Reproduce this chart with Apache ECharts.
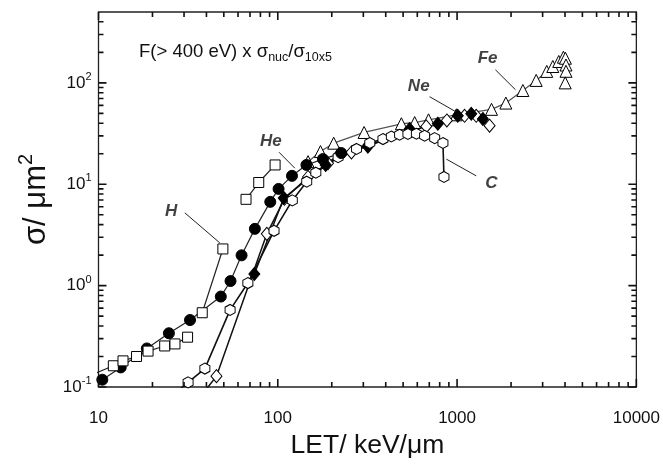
<!DOCTYPE html>
<html><head><meta charset="utf-8">
<script src="https://cdn.jsdelivr.net/npm/echarts@6/dist/echarts.min.js"></script>
<style>html,body{margin:0;padding:0;background:#fff}#c{width:663px;height:464px}</style>
</head><body><div id="c"></div>
<script>
// ---- tick values ----
const xMajorTicks = [10, 100, 1000, 10000];
const xMinorTicks = [20,30,40,50,60,70,80,90,200,300,400,500,600,700,800,900,2000,3000,4000,5000,6000,7000,8000,9000];
const yMajorTicks = [0.1, 1, 10, 100];
const yMinorTicks = [0.2,0.3,0.4,0.5,0.6,0.7,0.8,0.9,2,3,4,5,6,7,8,9,20,30,40,50,60,70,80,90,200,300,400];

// ---- data (LET keV/um, sigma um^2); null = gap in line ----
const hLET   = [9, 12.1, 13.7, 16.3, 18.9, 23.4, 26.7, 31.4, 37.9, 37.9, 49.4, 66.5, 66.5, 78.3, 96.6];
const hSigma = [0.13, 0.162, 0.181, 0.2, 0.226, 0.254, 0.266, 0.31, null, 0.54, 2.3, null, 7.1, 10.4, 15.5];
const heLET   = [10.5, 13.3, 18.6, 24.7, 32.4, 48.1, 54.5, 62.8, 74.5, 90.8, 101, 120, 144.5, 178.6, 226];
const heSigma = [0.118, 0.156, 0.24, 0.339, 0.458, 0.78, 1.11, 1.99, 3.63, 6.7, 9.0, 12.1, 15.5, 17.7, 20.3];
const cLET   = [26.3, 31.6, 39.2, 54.2, 68.1, 95.3, 120.5, 145, 163, 217, 275, 326, 386, 430, 478, 532, 593, 659, 750, 834, 845];
const cSigma = [0.085, 0.111, 0.152, 0.576, 1.06, 3.47, 6.93, 10.6, 13.0, 18.5, 22.3, 25.5, 27.9, 29.6, 30.8, 31.3, 31.5, 30.1, 28.5, 25.5, 11.8];
const oLET   = [38, 45.5, 86.9, 109, 147.5, 190.6, 257.5, 321, 673, 877, 1101, 1279, 1518];
const oSigma = [0.085, 0.128, 3.24, 7.18, 11.8, 16.1, 20.6, 24.5, 37.2, 42.6, 47.3, 47.3, 37.8];
const neLET   = [74, 108, 185, 221, 318, 544, 781, 1009, 1200, 1393];
const neSigma = [1.3, 7.3, 15.5, 19.9, 23.5, 35, 39.5, 47.3, 49.5, 44];
const feLET   = [147.5, 173, 205, 303, 489, 580, 693, 991, 1556, 1871, 2328, 2762, 3163, 3419, 3690, 3918, 4020, 4050, 4050, 4010];
const feSigma = [16.7, 21.0, 25.4, 32.4, 39.5, 40.6, 43.2, 48.4, 54.8, 63.2, 84.1, 105.7, 129.7, 145, 162.6, 179, 175, 150, 130, 100];

// ---- annotations ----
const annoText       = ['H', 'He', 'C', 'Ne', 'Fe'];
const annoLET        = [25.4, 91.4, 1556, 611, 1479];
const annoSigma      = [5.46, 26.8, 10.3, 91.6, 173];
const leaderFromLET  = [30.3, 101.6, 871, 703, 1636];
const leaderFromSig  = [5.22, 20.7, 17.7, 73, 134.6];
const leaderToLET    = [47.5, 124.5, 1279, 1007, 2118];
const leaderToSig    = [2.64, 14.4, 12.1, 50.7, 85.5];

const FONT = 'Liberation Sans, Arial, sans-serif';
const X_MIN = 10, X_MAX = 10000, Y_MIN = 0.1, Y_MAX = 500;
const GRID = { left: 98.5, right: 26, top: 12, bottom: 77 };
const W = 663, H = 464;
const pairs = (xs, ys) => xs.map((x, i) => [x, ys[i] == null ? '-' : ys[i]]);
const hexagon = 'path://M0,-10L8.66,-5L8.66,5L0,10L-8.66,5L-8.66,-5Z';
const MAJOR_LEN = 8, MINOR_LEN = 5;
const pxPerDecX = (W - GRID.left - GRID.right) / Math.log10(X_MAX / X_MIN);
const pxPerDecY = (H - GRID.top - GRID.bottom) / Math.log10(Y_MAX / Y_MIN);
const fX = len => Math.pow(10, len / pxPerDecX);
const fY = len => Math.pow(10, len / pxPerDecY);

const supRich = { sup: { fontSize: 11, fontFamily: FONT, color: '#111', padding: [0, 0, 12, 0] }, b: { fontSize: 17, fontFamily: FONT, color: '#111' } };

const xAxis = {
  type: 'log', min: X_MIN, max: X_MAX,
  splitLine: { show: false }, axisTick: { show: false }, axisLine: { show: false },
  axisLabel: { show: true, margin: 23, fontSize: 17, fontFamily: FONT, color: '#111', customValues: xMajorTicks, formatter: v => String(Math.round(v)) },
  name: 'LET/ keV/μm', nameLocation: 'middle', nameGap: 41,
  nameTextStyle: { fontSize: 26.5, fontFamily: FONT, color: '#111' }
};
const yAxis = {
  type: 'log', min: Y_MIN, max: Y_MAX,
  splitLine: { show: false }, axisTick: { show: false }, axisLine: { show: false },
  axisLabel: { show: true, margin: 7, customValues: yMajorTicks,
    formatter: v => '{b|10}{sup|' + Math.round(Math.log10(v)) + '}', rich: supRich },
  name: 'σ/ μm{s|2}', nameLocation: 'middle', nameGap: 37, nameRotate: 90,
  nameTextStyle: { fontSize: 31, fontFamily: FONT, color: '#111',
    rich: { s: { fontSize: 20, fontFamily: FONT, color: '#111', padding: [0, 0, 20, 0] } } }
};

function dataSeries(name, xs, ys, symbol, size, fill, lineColor, lineWidth) {
  return {
    name: name, type: 'line',
    data: pairs(xs, ys), symbol: symbol, symbolSize: size, showAllSymbol: true,
    connectNulls: false, clip: true,
    lineStyle: { color: lineColor, width: lineWidth },
    itemStyle: { color: fill, borderColor: '#000', borderWidth: 1 }
  };
}
function tickLines(values, isX, len) {
  const d = [];
  values.forEach(v => {
    if (isX) {
      d.push([v, Y_MIN], [v, Y_MIN * fY(len)], [v, '-']);
      d.push([v, Y_MAX], [v, Y_MAX / fY(len)], [v, '-']);
    } else {
      d.push([X_MIN, v], [X_MIN * fX(len), v], ['-', v]);
      d.push([X_MAX, v], [X_MAX / fX(len), v], ['-', v]);
    }
  });
  return { type: 'line', data: d, symbol: 'none', connectNulls: false, clip: false, silent: true,
    z: 5, lineStyle: { color: '#111', width: 1.6 } };
}

const series = [
  tickLines(xMajorTicks, true, MAJOR_LEN),
  tickLines(xMinorTicks, true, MINOR_LEN),
  tickLines(yMajorTicks, false, MAJOR_LEN),
  tickLines(yMinorTicks, false, MINOR_LEN),
  dataSeries('Fe', feLET, feSigma, 'triangle', 12, '#fff', '#555', 1.3),
  dataSeries('O', oLET, oSigma, 'diamond', [11, 13], '#fff', '#111', 1.5),
  dataSeries('Ne', neLET, neSigma, 'diamond', [11, 13], '#000', '#111', 1.5),
  dataSeries('C', cLET, cSigma, hexagon, [10, 11], '#fff', '#111', 1.6),
  dataSeries('He', heLET, heSigma, 'circle', 11, '#000', '#222', 1.2),
  dataSeries('H', hLET, hSigma, 'rect', 10, '#fff', '#222', 1.2)
];
annoText.forEach((t, i) => {
  series.push({
    type: 'line', symbol: 'none', silent: true,
    data: [[leaderFromLET[i], leaderFromSig[i]], [leaderToLET[i], leaderToSig[i]]],
    lineStyle: { color: '#222', width: 1 }
  });
});
series.push({
  type: 'scatter', symbolSize: 0, silent: true,
  data: annoText.map((t, i) => ({ name: t, value: [annoLET[i], annoSigma[i]] })),
  label: { show: true, position: 'inside', formatter: p => p.name,
    fontSize: 17, fontWeight: 'bold', fontStyle: 'italic', fontFamily: FONT, color: '#111' }
});

const chart = echarts.init(document.getElementById('c'));
chart.setOption({
  animation: false, backgroundColor: '#fff',
  title: {
    text: 'F(> 400 eV) x σ{sub|nuc}/σ{sub|10x5}', left: 134, top: 34,
    textStyle: { fontSize: 18.5, fontWeight: 'normal', fontFamily: FONT, color: '#111',
      rich: { sub: { fontSize: 12.5, fontFamily: FONT, color: '#111', padding: [12, 0, 0, 0] } } }
  },
  grid: Object.assign({ show: true, borderColor: '#222', borderWidth: 1.3 }, GRID),
  xAxis: xAxis, yAxis: yAxis, series: series
});
</script>
</body></html>
